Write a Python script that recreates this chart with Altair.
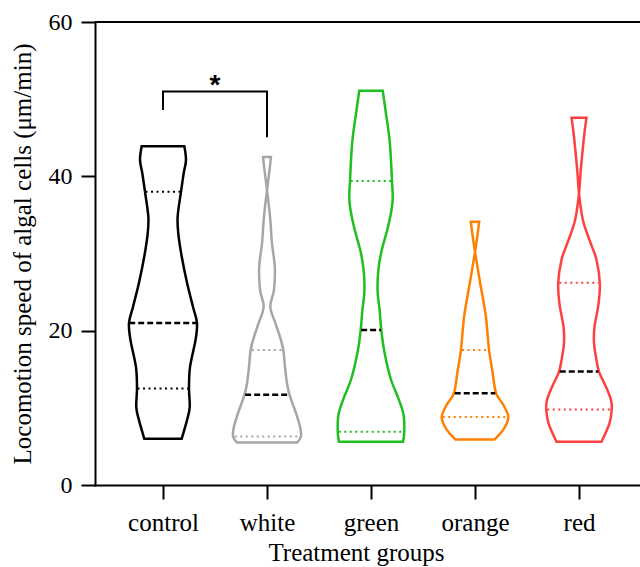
import altair as alt
import pandas as pd

# ---------------- data ----------------
groups = ["control", "white", "green", "orange", "red"]
colors = ["#000000", "#a6a6a6", "#1fbf1f", "#ff8000", "#ff4040"]

# violin outlines: speed value and half-width (fraction of group spacing)
control_v = [43.9, 42.1, 40.4, 38.0, 34.8, 32.6, 29.6, 26.2, 23.1, 21.0, 18.8, 15.3, 12.5, 10.1, 8.4, 6.0]
control_w = [.205, .221, .199, .173, .141, .147, .180, .231, .288, .327, .313, .260, .250, .257, .231, .180]

white_v = [42.5, 40.8, 38.2, 34.8, 31.3, 28.3, 25.3, 23.1, 21.0, 19.2, 17.5, 15.3, 13.2, 11.7, 9.3, 7.6, 6.3, 5.5]
white_w = [-.038, -.024, 0, .029, .048, .075, .067, .032, .080, .125, .157, .173, .192, .216, .279, .317, .327, .288]

green_v = [51.1, 48.4, 44.5, 39.4, 36.7, 33.7, 30.2, 27.6, 25.0, 22.5, 20.1, 17.3, 13.8, 11.2, 9.1, 6.9, 5.6]
green_w = [.113, .141, .180, .202, .207, .168, .099, .069, .064, .084, .099, .128, .189, .264, .313, .320, .308]

orange_v = [34.1, 32.4, 30.2, 26.3, 22.0, 17.5, 14.7, 11.9, 10.4, 8.8, 7.3, 5.9]
orange_w = [-.040, -.024, 0, .048, .103, .135, .168, .202, .272, .320, .279, .189]

red_v = [47.6, 45.1, 40.8, 37.8, 34.3, 31.3, 29.2, 26.2, 23.5, 20.5, 18.4, 16.6, 14.7, 12.7, 11.0, 9.8, 8.0, 5.6]
red_w = [-.072, -.048, -.017, 0, .038, .113, .168, .200, .188, .149, .144, .163, .192, .260, .308, .315, .293, .216]

# quartiles (Q1, median, Q3) and the half-width of their lines
q1 = [12.5, 6.3, 6.9, 8.8, 9.8]
q1_w = [.245, .31, .31, .31, .305]
median = [21.0, 11.7, 20.1, 11.9, 14.7]
median_w = [.325, .21, .095, .195, .185]
q3 = [38.0, 17.5, 39.4, 17.5, 26.2]
q3_w = [.168, .145, .195, .125, .19]

# significance bracket control vs white
bracket_x = [0, 0, 1, 1]
bracket_v = [48.6, 51.0, 51.0, 45.05]
star_label = "*"
star_x = 0.5
star_v = 50.7

y_ticks = [0, 20, 40, 60]

# ---------------- tables ----------------
outlines = [control_v, white_v, green_v, orange_v, red_v]
widths = [control_w, white_w, green_w, orange_w, red_w]
rows = []
for gi, g in enumerate(groups):
    for v, w in zip(outlines[gi], widths[gi]):
        rows.append({"group": g, "value": v, "lo": gi - w, "hi": gi + w})
violin_df = pd.DataFrame(rows)

qrows = []
for gi, g in enumerate(groups):
    qrows.append({"group": g, "value": q1[gi], "lo": gi - q1_w[gi], "hi": gi + q1_w[gi]})
    qrows.append({"group": g, "value": q3[gi], "lo": gi - q3_w[gi], "hi": gi + q3_w[gi]})
quart_df = pd.DataFrame(qrows)
med_df = pd.DataFrame({"group": groups, "value": median,
                       "lo": [i - w for i, w in enumerate(median_w)],
                       "hi": [i + w for i, w in enumerate(median_w)]})
br_df = pd.DataFrame({"lo": bracket_x, "value": bracket_v, "o": list(range(len(bracket_x)))})
star_df = pd.DataFrame({"lo": [star_x], "value": [star_v], "t": [star_label]})
top_df = pd.DataFrame({"value": [60]})

FONT = "Liberation Serif"
xscale = alt.Scale(domain=[-0.6538, 4.5865], nice=False, zero=False)
yscale = alt.Scale(domain=[0, 60], nice=False, zero=True)
color_scale = alt.Scale(domain=groups, range=colors)

label_expr = "[" + ",".join("'%s'" % g for g in groups) + "][datum.value]"

x_axis = alt.Axis(values=[0, 1, 2, 3, 4], labelExpr=label_expr, title="Treatment groups",
                  grid=False, tickSize=14, tickWidth=2, tickColor="black",
                  domainWidth=2, domainColor="black", domainCap="square",
                  labelFont=FONT, labelFontSize=25, labelColor="black",
                  labelBaseline="alphabetic", labelPadding=31,
                  titleFont=FONT, titleFontSize=25, titleFontWeight="normal", titleColor="black",
                  titleBaseline="alphabetic", titleY=75.5, titleX=261)
y_axis = alt.Axis(values=y_ticks, title="Locomotion speed of algal cells (μm/min)",
                  grid=False, tickSize=14, tickWidth=2, tickColor="black",
                  domainWidth=2, domainColor="black", domainCap="square",
                  labelFont=FONT, labelFontSize=24, labelColor="black", labelPadding=9,
                  titleFont=FONT, titleFontSize=25, titleFontWeight="normal", titleColor="black",
                  titleBaseline="alphabetic", titleX=-65)

X = alt.X("lo:Q", scale=xscale, axis=x_axis)
Y = alt.Y("value:Q", scale=yscale, axis=y_axis)

violins = alt.Chart(violin_df).mark_area(
    orient="horizontal", interpolate="cardinal", strokeWidth=2.5, fillOpacity=0
).encode(
    x=X, x2="hi:Q", y=Y,
    stroke=alt.Stroke("group:N", scale=color_scale, legend=None),
    detail="group:N",
)

quarts = alt.Chart(quart_df).mark_rule(strokeWidth=2, strokeDash=[2, 3.5]).encode(
    x=X, x2="hi:Q", y=Y,
    stroke=alt.Stroke("group:N", scale=color_scale, legend=None),
)

meds = alt.Chart(med_df).mark_rule(strokeWidth=2.5, strokeDash=[6, 3], color="black").encode(
    x=X, x2="hi:Q", y=Y,
)

bracket = alt.Chart(br_df).mark_line(strokeWidth=2, color="black").encode(
    x=X, y=Y, order="o:O",
)

star = alt.Chart(star_df).mark_text(
    font="Liberation Sans", fontSize=28, fontWeight="bold", color="black", baseline="alphabetic"
).encode(
    x=X, y=Y, text="t:N",
)

top = alt.Chart(top_df).mark_rule(strokeWidth=2, color="black").encode(y=Y)

chart = alt.layer(violins, quarts, meds, bracket, star, top).properties(
    width=545, height=463,
    padding={"left": 95, "top": 22, "right": 0, "bottom": 82},
    autosize=alt.AutoSizeParams(type="none"),
    background="white",
).configure_view(stroke=None)

chart.save("out.html", embed_options={"renderer": "svg", "actions": False})
